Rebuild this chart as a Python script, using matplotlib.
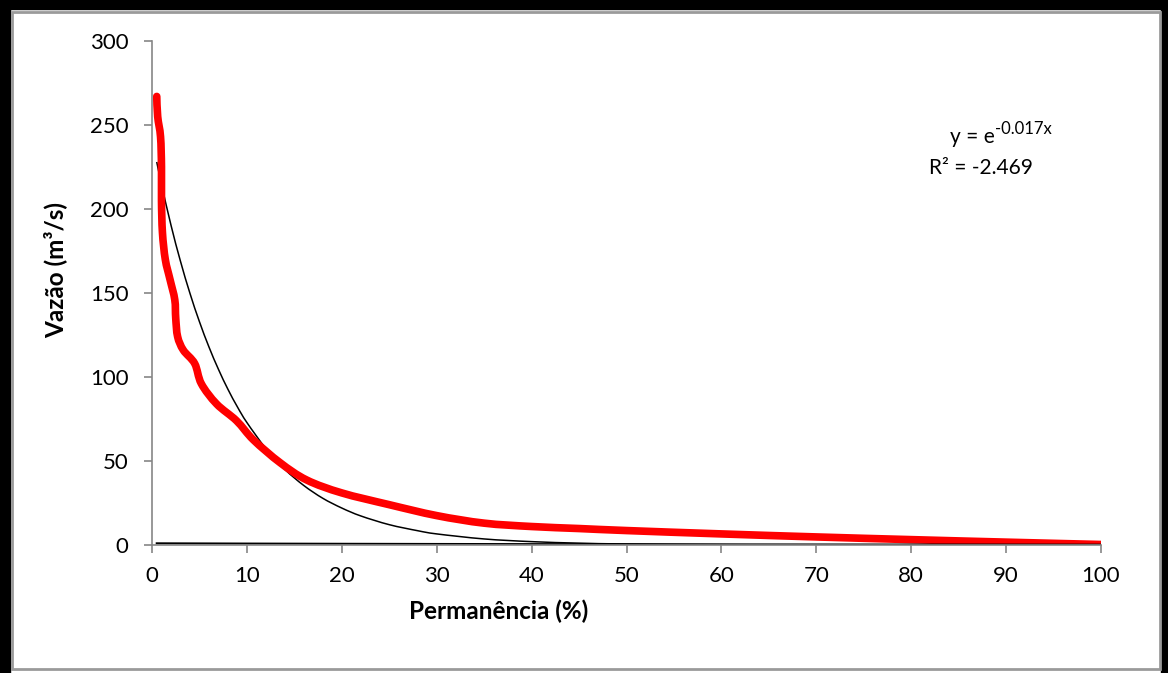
import matplotlib
matplotlib.use("Agg")
import matplotlib.pyplot as plt
from matplotlib.patches import Rectangle, PathPatch
from matplotlib.path import Path

plt.rcParams['font.family'] = ['Lato', 'DejaVu Sans']

# Curva de permanência
perm = [0.5, 0.6, 0.9, 1.0, 1.0, 1.1, 1.4, 1.9, 2.4, 2.5, 2.7, 3.3, 4.5, 5.2,
        6.8, 8.9, 10.7, 13.5, 16.3, 20, 25, 30, 35, 40, 45, 50, 60, 70, 80, 90, 100]
vazao = [267, 255, 243, 225, 205, 186, 170, 158, 146, 135, 124, 116, 108, 96,
         84, 74, 62.5, 49, 38.7, 31, 24, 17.5, 13, 11, 9.8, 8.6, 6.6, 4.8, 3.2, 1.7, 0.3]

# Linha de tendência exponencial
tend_x = [0.5, 1, 2, 3, 4, 5, 6, 7, 8, 9, 10, 12, 14, 16, 18, 20, 22, 25, 28, 30,
          35, 40, 45, 50, 60, 70, 80, 90, 100]
tend_y = [228, 214.7, 190.4, 168.9, 149.8, 132.9, 117.9, 104.6, 92.7, 82.2, 72.9,
          57.4, 45.0, 35.4, 27.8, 22.0, 17.3, 12.1, 8.5, 6.6, 3.6, 2.0, 1.1, 0.6,
          0.2, 0.05, 0.0, 0.0, 0.0]

# Série próxima de zero (y = e^-0.017x)
base_x = [0.5, 10, 20, 30, 40, 50, 60, 70, 80, 90, 100]
base_y = [0.99, 0.84, 0.71, 0.60, 0.51, 0.43, 0.36, 0.30, 0.26, 0.22, 0.18]


def linha_suave(ax, xs, ys, **kw):
    # curva suavizada como no Excel (Bezier com pontos de controle vizinhos)
    pts = list(zip(xs, ys))
    verts = [pts[0]]
    codes = [Path.MOVETO]
    n = len(pts)
    for i in range(n - 1):
        p0 = pts[max(i - 1, 0)]
        p1 = pts[i]
        p2 = pts[i + 1]
        p3 = pts[min(i + 2, n - 1)]
        c1 = (p1[0] + (p2[0] - p0[0]) / 6, p1[1] + (p2[1] - p0[1]) / 6)
        c2 = (p2[0] - (p3[0] - p1[0]) / 6, p2[1] - (p3[1] - p1[1]) / 6)
        verts += [c1, c2, p2]
        codes += [Path.CURVE4] * 3
    patch = PathPatch(Path(verts, codes), fill=False, transform=ax.transData, **kw)
    ax.add_patch(patch)


fig = plt.figure(figsize=(11.68, 6.73), dpi=100)
W, H = 1168, 673

# moldura estilo Excel
fig.patches.append(Rectangle((0, 0), 10 / W, 1, transform=fig.transFigure, color='black', zorder=0))
fig.patches.append(Rectangle((0, 1 - 9 / H), 1, 9 / H, transform=fig.transFigure, color='black', zorder=0))
fig.patches.append(Rectangle((1161 / W, 0), 7 / W, 1, transform=fig.transFigure, color='black', zorder=0))
fig.patches.append(Rectangle((11.5 / W, 4.5 / H), 1148 / W, 657 / H, transform=fig.transFigure,
                             fill=False, edgecolor='#9a9a9a', linewidth=2, zorder=1))

ax = fig.add_axes([152 / W, 1 - 545 / H, 949 / W, 504 / H])

ax.plot(base_x, base_y, color='black', linewidth=1.5)
linha_suave(ax, tend_x, tend_y, edgecolor='black', linewidth=1.1)
linha_suave(ax, perm, vazao, edgecolor='#ff0000', linewidth=5.5, capstyle='round', joinstyle='round')

ax.set_xlim(0, 100)
ax.set_ylim(0, 300)
ax.set_xticks(range(0, 101, 10))
ax.set_yticks(range(0, 301, 50))
for s in ['top', 'right']:
    ax.spines[s].set_visible(False)
for s in ['left', 'bottom']:
    ax.spines[s].set_color('#868686')
    ax.spines[s].set_linewidth(1.2)
ax.tick_params(direction='out', length=6, width=1.2, color='#868686', labelsize=16)
ax.tick_params(axis='y', pad=11)
ax.tick_params(axis='x', pad=9)

fig.text(499 / W, 1 - 611 / H, 'Permanência (%)', fontsize=17.5, fontweight='bold',
         ha='center', va='center')
fig.text(55 / W, 1 - 270 / H, 'Vazão (m³/s)', fontsize=17.5, fontweight='bold',
         ha='center', va='center', rotation=90)

t = fig.text(950 / W, 1 - 137 / H, 'y = e', fontsize=15, va='center', ha='left')
ax.annotate('-0.017x', xy=(1.0, 0.5), xycoords=t, fontsize=12, va='bottom', ha='left')
fig.text(981 / W, 1 - 168 / H, 'R² = -2.469', fontsize=15, va='center', ha='center')

plt.savefig('out.png', dpi=100)
